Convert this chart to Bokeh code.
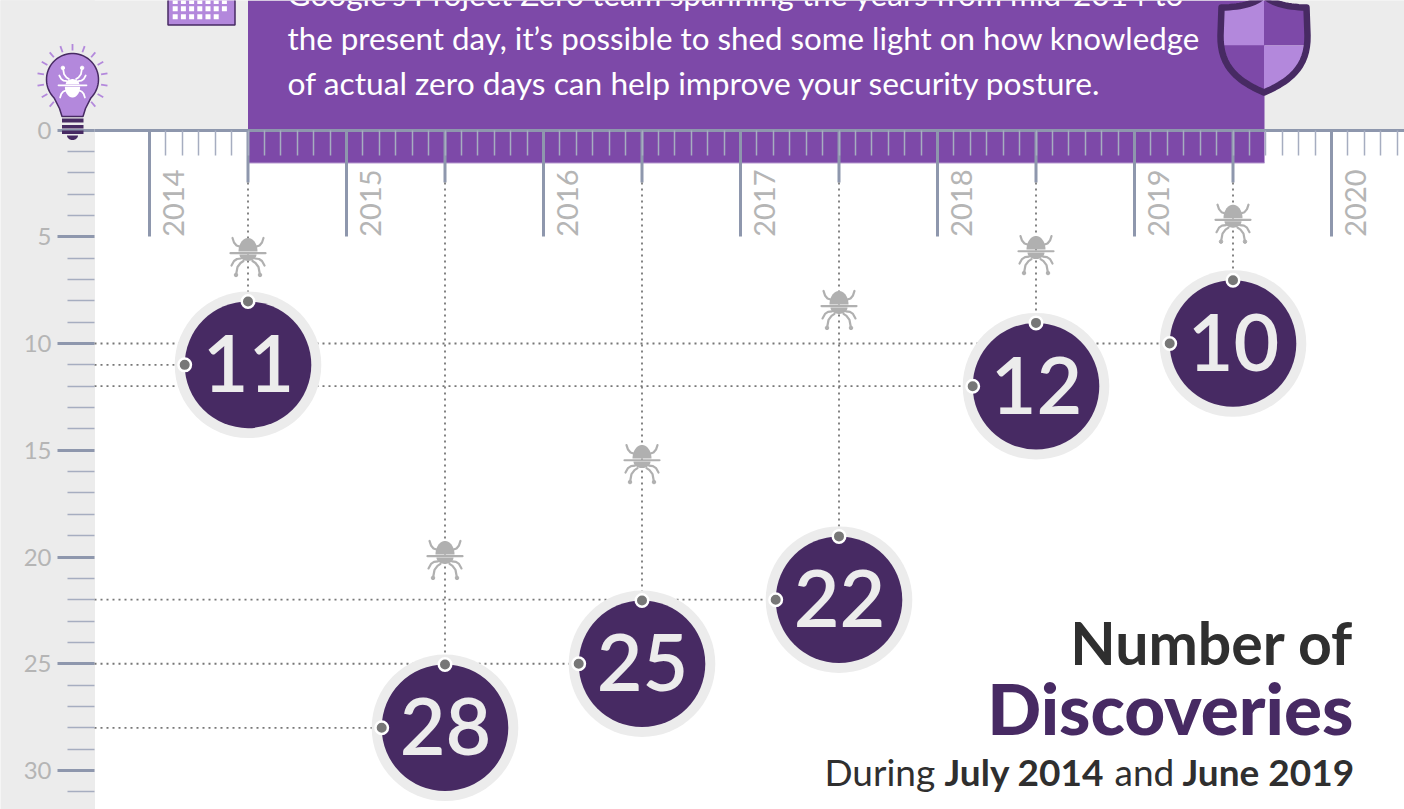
import numpy as np
from bokeh.core.properties import value
from bokeh.embed import file_html
from bokeh.models import FixedTicker, LinearAxis, Range1d
from bokeh.plotting import figure
from bokeh.resources import INLINE

# ---------- data ----------
years = [2014, 2015, 2016, 2017, 2018, 2019, 2020]
year_labels = ["2014", "2015", "2016", "2017", "2018", "2019", "2020"]
periods = [2014.5, 2015.5, 2016.5, 2017.5, 2018.5, 2019.5]
discoveries = [11, 28, 25, 22, 12, 10]
discovery_labels = ["11", "28", "25", "22", "12", "10"]
bug_levels = [5.76, 19.95, 15.46, 8.24, 5.67, 4.2]
y_major = [0, 5, 10, 15, 20, 25, 30]
y_minor = [v for v in range(0, 34) if v % 5 != 0]
intro_lines = [
    "Google\u2019s Project Zero team spanning the years from mid-2014 to",
    "the present day, it\u2019s possible to shed some light on how knowledge",
    "of actual zero days can help improve your security posture.",
]

# ---------- style ----------
W, H = 1404, 809
PX_YEAR, PX_UNIT = 197.0, 21.35
X0, Y0 = 150.0, 129.5
PURPLE, DARK, LIGHT = "#7d49a8", "#472a63", "#b388dc"
GREY_BG, TICK, TICK_MINOR, LABEL = "#ececec", "#8e97ad", "#a6adc0", "#b5b5b5"
BUG, DOT = "#b0b0b0", "#777777"
FONT = value("Lato")

def X(px):
    return 2014 + (np.asarray(px, dtype=float) - X0) / PX_YEAR

def Y(px):
    return (np.asarray(px, dtype=float) - Y0) / PX_UNIT

p = figure(width=W, height=H, output_backend="svg", toolbar_location=None,
           x_range=Range1d(float(X(1)), float(X(W + 1))),
           y_range=Range1d(float(Y(H)), float(Y(0))),
           x_axis_type=None, y_axis_type=None, min_border=0,
           outline_line_color=None, background_fill_color="white",
           border_fill_color=GREY_BG)
p.grid.visible = False

# backgrounds
p.quad(left=float(X(0)), right=float(X(95)), bottom=float(Y(H)), top=float(Y(0)), color=GREY_BG)
p.quad(left=float(X(0)), right=float(X(W + 2)), bottom=float(Y(Y0)), top=float(Y(0)), color=GREY_BG)
p.quad(left=periods[0], right=float(X(1265)), bottom=float(Y(162.5)), top=float(Y(0)),
       fill_color=PURPLE, line_color=None)
p.line(x=[periods[0], float(X(1265))], y=[float(Y(162.5))] * 2, line_color="#b79ad0", line_width=1)

# axes
yax = LinearAxis(fixed_location=float(X(95)), ticker=FixedTicker(ticks=y_major, minor_ticks=y_minor))
yax.axis_line_color = None
yax.major_tick_out, yax.major_tick_in = 37, 0
yax.minor_tick_out, yax.minor_tick_in = 27, 0
yax.major_tick_line_color, yax.major_tick_line_width = TICK, 3
yax.minor_tick_line_color, yax.minor_tick_line_width = TICK_MINOR, 1.5
yax.major_label_standoff = 6
yax.major_label_text_font = "Lato"
yax.major_label_text_font_size = "24px"
yax.major_label_text_color = LABEL
p.add_layout(yax, "left")

months = [y + m / 12 for y in years for m in range(1, 12)]
xax = LinearAxis(fixed_location=0, ticker=FixedTicker(ticks=years, minor_ticks=months),
                 bounds=(float(X(95)), float(X(W + 2))))
xax.axis_line_color, xax.axis_line_width = TICK, 3
xax.major_tick_out, xax.major_tick_in = 106, 0
xax.minor_tick_out, xax.minor_tick_in = 25, 0
xax.major_tick_line_color, xax.major_tick_line_width = TICK, 3
xax.minor_tick_line_color, xax.minor_tick_line_width = TICK_MINOR, 1.5
xax.major_label_overrides = {y: "" for y in years}
p.add_layout(xax, "below")

p.text(x=years, y=[5.0] * len(years), text=year_labels, angle=np.pi / 2, x_offset=23.5,
       text_align="left", text_baseline="middle", text_font=FONT,
       text_font_size="29px", text_color=LABEL)

# leader lines
R_IN, R_OUT = 63.3, 73.3
rx, ry = R_IN / PX_YEAR, R_IN / PX_UNIT
stem_end = float(Y(182))
p.segment(x0=periods, x1=periods, y0=[0] * 6, y1=[stem_end] * 6, line_color=TICK, line_width=3)
dot_kw = dict(line_color=DOT, line_width=1.8, line_dash="2 4")
p.segment(x0=periods, x1=periods, y0=[stem_end] * 6, y1=[d - ry for d in discoveries], **dot_kw)
p.segment(x0=[float(X(95))] * 6, x1=[x - rx for x in periods], y0=discoveries, y1=discoveries, **dot_kw)

# bubbles
p.scatter(x=periods, y=discoveries, size=2 * R_OUT, fill_color=GREY_BG, line_color=None)
p.scatter(x=periods, y=discoveries, size=2 * R_IN, fill_color=DARK, line_color=None)
p.scatter(x=periods, y=[d - ry for d in discoveries], size=12.5, fill_color=DOT, line_color="white", line_width=2.5)
p.scatter(x=[x - rx for x in periods], y=discoveries, size=12.5, fill_color=DOT, line_color="white", line_width=2.5)
p.text(x=periods, y=discoveries, text=discovery_labels, x_offset=0.5, y_offset=-1,
       text_align="center", text_baseline="middle", text_font=value("Lato Semibold"),
       text_font_size="79px", text_color=GREY_BG)

# ---------- bug icon, built in pixels round a centre ----------
def arc(cx, cy, rx_, ry_, a0, a1, n=24):
    t = np.radians(np.linspace(a0, a1, n))
    return cx + rx_ * np.cos(t), cy + ry_ * np.sin(t)

def bug(cx, cy, colour, s=1.0, flip=1, level="glyph"):
    def P(xs, ys):
        return (cx + s * np.asarray(xs, dtype=float),
                cy + s * flip * np.asarray(ys, dtype=float))
    polys, lines = [], []
    dx, dy = arc(0, -1.5, 9.5, 13.5, 180, 360)
    polys.append(P(dx, dy))
    bx, by = arc(0, 1.5, 8.5, 6.5, 0, 180)
    polys.append(P(bx, by))
    lines.append(P([-17.5, 17.5], [0.2, 0.2]))
    for sgn in (-1, 1):
        lines.append(P(sgn * np.array([8.5, 11.5, 14, 15.5]), [-6.5, -7.5, -10.5, -15]))
        lines.append(P(sgn * np.array([7, 11, 14, 16.5]), [5.5, 6, 8, 12.5]))
        lines.append(P(sgn * np.array([4.5, 7.5, 10.5, 12]), [8, 10, 14, 22]))
    p.patches(xs=[X(a) for a, _ in polys], ys=[Y(b) for _, b in polys],
              fill_color=colour, line_color=None, level=level)
    p.multi_line(xs=[X(a) for a, _ in lines], ys=[Y(b) for _, b in lines],
                 line_color=colour, line_width=2.2 * max(s, 0.8), line_cap="round", level=level)
    ends = [P([sgn * 12], [22]) for sgn in (-1, 1)]
    p.scatter(x=[float(X(a[0])) for a, _ in ends], y=[float(Y(b[0])) for _, b in ends],
              size=3.5, color=colour, level=level)

for x, lvl in zip(periods, bug_levels):
    bug(float((x - 2014) * PX_YEAR + X0), Y0 + lvl * PX_UNIT, BUG)

# ---------- light bulb ----------
BX, BY, BR = 73.0, 79.0, 26.0
hx, hy = arc(BX, BY, BR, BR, 135, 405, 50)
bulb_x = np.concatenate([[BX - 10.5, BX - 13], hx, [BX + 13, BX + 10.5]])
bulb_y = np.concatenate([[116, 108], hy, [108, 116]])
p.patch(X(bulb_x), Y(bulb_y), fill_color=LIGHT, line_color=DARK, line_width=1.5, level="overlay")
ang = np.radians(np.arange(-140, 141, 20))
p.segment(x0=X(BX + 29 * np.sin(ang)), y0=Y(BY - 29 * np.cos(ang)),
          x1=X(BX + 35.5 * np.sin(ang)), y1=Y(BY - 35.5 * np.cos(ang)),
          line_color=LIGHT, line_width=1.8, level="overlay")
p.quad(left=float(X(62.5)), right=float(X(84)),
       top=Y([118, 124.5, 130]), bottom=Y([122, 128, 133.5]),
       fill_color=DARK, line_color=None, level="overlay")
cx_, cy_ = arc(BX, 135, 5.5, 4.5, 0, 180)
p.patch(X(cx_), Y(cy_), fill_color=DARK, line_color=None, level="overlay")
bug(BX, 85.0, "white", s=0.8, flip=-1, level="overlay")

# ---------- calendar ----------
p.quad(left=float(X(168.5)), right=float(X(235.5)), top=float(Y(-5)), bottom=float(Y(24.5)),
       fill_color=LIGHT, line_color=DARK, line_width=1.5)
cal_x = [175.7 + 8.2 * i for i in range(7)]
cal_pts = [(c, r) for r in (1, 8.3) for c in cal_x] + [(c, 16.3) for c in cal_x[:6]]
p.scatter(x=[float(X(a)) for a, _ in cal_pts], y=[float(Y(b)) for _, b in cal_pts],
          marker="square", size=5, color="white", line_color=None)

# ---------- shield ----------
SX = 1264.5

def bezier(pts, n=16):
    t = np.linspace(0, 1, n)[:, None]
    pts = [np.array(q, dtype=float) for q in pts]
    if len(pts) == 3:
        return (1 - t) ** 2 * pts[0] + 2 * t * (1 - t) * pts[1] + t ** 2 * pts[2]
    return ((1 - t) ** 3 * pts[0] + 3 * t * (1 - t) ** 2 * pts[1]
            + 3 * t ** 2 * (1 - t) * pts[2] + t ** 3 * pts[3])

top_edge = bezier([(0, -5), (-12, 6.5), (-42.5, 7)])
side_edge = bezier([(-43.5, 35), (-44, 65), (-28, 80), (0, 92)])
half = np.vstack([top_edge, side_edge])
half_x, half_y = half[:, 0], half[:, 1]
split = 45.0
edge = float(np.interp(split, side_edge[:, 1], side_edge[:, 0]))
up = half_y < split
tl_x = np.concatenate([half_x[up], [edge, 0]]) + SX
tl_y = np.concatenate([half_y[up], [split, split]])
bl_x = np.concatenate([[0, edge], half_x[~up]]) + SX
bl_y = np.concatenate([[split, split], half_y[~up]])
p.patches(xs=[X(tl_x), X(2 * SX - tl_x), X(bl_x), X(2 * SX - bl_x)],
          ys=[Y(tl_y), Y(tl_y), Y(bl_y), Y(bl_y)],
          fill_color=[LIGHT, PURPLE, PURPLE, LIGHT], line_color=None)
outline_x = np.concatenate([half_x + SX, (2 * SX - (half_x + SX))[::-1]])
outline_y = np.concatenate([half_y, half_y[::-1]])
p.line(X(outline_x), Y(outline_y), line_color=DARK, line_width=6.5, line_join="round")

# ---------- texts ----------
def put(px, py, txts, size, colour, font=FONT, align="left", style="normal"):
    # the SVG backend sets the alphabetic baseline 0.4 em low
    p.text(x=[float(X(px))] * len(txts), y=Y(py), text=txts, text_align=align, text_baseline="alphabetic",
           y_offset=-0.4 * size, text_font=font, text_font_style=style,
           text_font_size=f"{size}px", text_color=colour)

for line, base, fs in zip(intro_lines, [6.5, 50, 95.5], [31.6, 31.3, 31.7]):
    put(288, [base], [line], fs, "white")
put(1354, [666], ["Number of"], 59, "#2f2f2f", style="bold", align="right")
put(1354, [735], ["Discoveries"], 71, DARK, font=value("Lato Black"), style="bold", align="right")
for px, txt, st in [(825, "During", "normal"), (945, "July 2014", "bold"),
                    (1115, "and", "normal"), (1183, "June 2019", "bold")]:
    put(px, [786], [txt], 37, "#2f2f2f", style=st)

open("out.html", "w").write(file_html(p, INLINE))
